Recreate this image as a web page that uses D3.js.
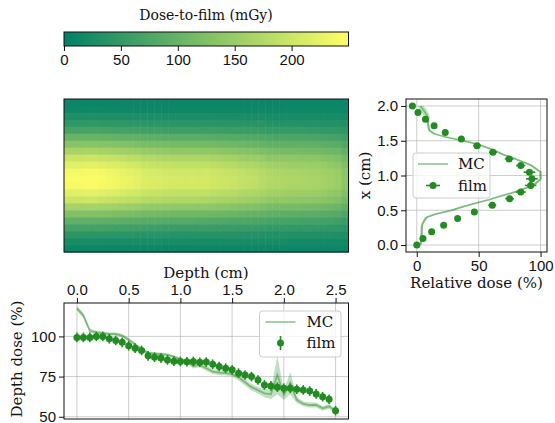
<!DOCTYPE html>
<html lang="en">
<head>
<meta charset="UTF-8">
<title>Dose-to-film</title>
<script src="https://cdnjs.cloudflare.com/ajax/libs/d3/7.8.5/d3.min.js"></script>
<style>
  body { margin: 0; background: #fff; }
  svg { font-family: "DejaVu Serif", serif; font-size: 15px; }
  .grid line { stroke: #b0b0b0; stroke-opacity: 0.7; stroke-width: 0.9px; }
  .frame { fill: none; stroke: #111; stroke-width: 1px; }
  .tick line { stroke: #111; }
  .tick text { fill: #111; font-size: 15px; }
</style>
</head>
<body>
<div id="wrapper"></div>
<script>
// colour bar
const cbarTicks = [0, 50, 100, 150, 200];
const cbarMax = 250;

// film dose map (mGy), rows top (x = 2.0 cm) to bottom (x = 0 cm), columns = depth
const doseMap = [
  [12,12,12,12,12,12,12,12,12,12,12,12,12,12,12,12,12,12,12,12,12,12,12,12,12,12,12,12,12,12,12,12,12,12,12,12,12,12,12,12,12],
  [14,14,14,15,15,14,14,14,14,14,14,14,14,14,14,14,14,14,14,14,14,14,14,14,14,14,14,14,14,14,14,14,14,14,14,14,14,14,14,14,13],
  [29,29,29,30,30,29,29,29,28,28,28,27,27,27,27,27,27,27,27,27,27,26,26,26,26,25,25,25,25,24,24,24,24,24,24,24,24,23,23,23,21],
  [47,47,47,47,47,46,46,46,45,44,44,43,42,42,42,42,42,41,42,41,41,41,40,40,40,39,39,38,38,36,36,36,36,36,35,35,35,34,34,33,31],
  [69,69,69,70,70,69,68,67,66,65,65,63,62,62,61,61,61,60,61,60,60,60,59,58,58,56,56,55,54,52,52,51,51,51,51,50,50,49,48,47,43],
  [102,102,102,102,102,101,100,99,97,96,94,91,91,90,89,88,88,88,88,88,88,87,85,84,83,82,81,80,78,75,74,74,73,73,73,72,72,70,68,67,61],
  [133,133,133,134,134,132,131,130,127,125,123,119,118,118,116,115,115,115,115,114,114,113,111,110,109,106,105,104,101,97,96,95,95,95,94,93,93,90,88,86,78],
  [165,165,165,166,166,164,162,160,157,155,153,147,146,145,144,142,142,142,142,141,141,139,137,136,134,131,129,128,124,120,119,117,116,116,115,115,114,111,108,106,95],
  [198,198,198,199,199,196,194,192,188,185,183,176,175,174,172,170,170,169,170,169,169,167,164,162,160,156,154,152,148,140,141,140,139,139,137,137,135,132,129,126,113],
  [221,221,221,222,222,219,217,214,210,207,204,197,195,194,191,190,189,189,189,188,188,186,183,180,178,174,172,170,165,159,157,156,154,154,153,152,151,147,143,140,125],
  [239,239,239,240,240,237,234,232,227,223,220,212,211,209,207,205,204,204,204,203,204,201,197,195,193,188,185,183,178,171,170,168,166,166,165,164,162,158,155,151,135],
  [244,244,244,245,245,242,239,236,231,228,225,217,215,214,211,209,209,208,209,208,208,205,201,199,197,192,189,187,182,175,173,171,170,170,168,167,166,162,158,154,137],
  [241,241,241,242,242,239,237,234,229,226,222,215,213,211,209,207,207,206,207,205,206,203,199,197,195,190,187,185,180,173,172,170,168,168,167,166,164,160,156,152,136],
  [221,221,221,222,222,219,217,214,210,207,204,197,195,194,191,190,189,189,189,188,188,186,183,180,178,174,172,170,165,159,157,156,154,154,153,152,151,147,143,140,125],
  [199,199,199,200,200,197,195,193,189,186,184,177,176,175,173,171,171,170,171,170,170,168,165,163,161,157,155,153,149,143,142,141,139,139,138,137,136,133,130,126,113],
  [164,164,164,165,165,163,161,159,156,154,152,146,145,144,143,141,141,141,141,140,141,139,136,135,133,130,128,127,124,119,118,117,116,116,115,114,113,110,108,105,94],
  [128,128,128,128,128,127,126,124,122,120,118,114,113,113,111,111,110,110,110,110,110,108,107,105,104,102,101,99,97,93,93,92,91,91,90,90,89,87,85,83,75],
  [94,94,94,95,95,93,93,92,90,89,88,85,84,84,83,82,82,82,82,81,81,80,79,78,77,76,75,74,72,70,69,69,68,68,67,67,67,65,64,62,56],
  [66,66,66,66,66,66,65,64,63,62,62,60,59,59,58,58,58,58,58,58,58,57,56,56,55,54,53,53,52,50,50,49,49,49,48,48,48,47,46,45,41],
  [42,42,42,42,42,42,41,41,40,40,39,38,38,38,38,37,37,37,37,37,37,37,36,36,36,35,35,35,34,33,33,33,32,32,32,32,32,31,31,30,28],
  [24,24,24,25,25,24,24,24,24,24,23,23,23,23,23,23,23,23,23,22,22,22,22,22,22,22,21,21,21,21,21,21,20,20,20,20,20,20,20,20,19],
  [12,12,12,12,12,12,12,12,12,12,12,12,12,12,12,12,12,12,12,12,12,12,12,12,12,12,12,12,12,12,12,12,12,12,12,12,12,12,12,12,12]
];

// depth dose (%)
const depthCm = [0,0.0625,0.125,0.1875,0.25,0.3125,0.375,0.4375,0.5,0.5625,0.625,0.6875,0.75,0.8125,0.875,0.9375,1,1.0625,1.125,1.1875,1.25,1.3125,1.375,1.4375,1.5,1.5625,1.625,1.6875,1.75,1.8125,1.875,1.9375,2,2.0625,2.125,2.1875,2.25,2.3125,2.375,2.4375,2.5];
const depthFilm = [99.4,99.4,99.4,100,100,98.5,97.5,96.3,94.2,92.7,91.3,87.9,87.1,86.5,85.4,84.6,84.4,84.2,84.4,83.9,84.0,82.7,81.3,80.2,79.2,77.1,76.0,75.0,72.9,69.8,69.2,68.4,67.7,67.7,67.1,66.7,66.0,64.2,62.5,60.9,53.75];
const depthFilmErr = 3;
const depthMC = [117.5,113,103.5,102.5,102,101.5,101.5,100.5,98,95,92,89.8,89.2,89,88.5,87.3,85.8,84.5,81.5,82.3,80.2,78.1,77.5,77.1,76.5,74.6,71.5,68.4,66.5,64.6,64.0,76,63.5,71,60.5,58,57.3,57.3,55.2,56.5,53.5];
const depthMCErr = [1.5,1.5,1.5,1,1,1,1,1,1,1,1,1,1,1,1,1,1,1,1.5,1.5,1.5,1.5,1.5,1.5,1.5,2,2,2,2,2.5,3,12,3,7,2,1.5,1.5,1.5,1.5,1.5,1.5];
const depthTicksX = [0, 0.5, 1.0, 1.5, 2.0, 2.5];
const depthTicksY = [50, 75, 100];

// lateral profile (%)
const latCm = [0,0.095,0.19,0.286,0.381,0.476,0.571,0.667,0.762,0.857,0.952,1.048,1.143,1.238,1.333,1.429,1.524,1.619,1.714,1.810,1.905,2.0];
const latFilm = [0,5,12,21.7,33,46.5,61,75,84,92,93,91,84,74.6,61.5,48.7,36,23,14,7,1,-3.5];
const latFilmErr = [0.5,0.8,1,1.5,2,2.5,3.2,3.5,4,4.7,4.7,4.7,3.7,3.5,3.2,3.2,2.5,2,1.5,1,0.8,0.5];
const latMCcm = [0,0.05,0.1,0.15,0.2,0.25,0.3,0.35,0.4,0.45,0.5,0.55,0.6,0.65,0.7,0.75,0.8,0.85,0.9,0.95,1,1.05,1.1,1.15,1.2,1.25,1.3,1.35,1.4,1.45,1.5,1.55,1.6,1.65,1.7,1.75,1.8,1.85,1.9,1.95,2];
const latMC = [3,3.5,3.5,4,4,4,4.5,6,8,16,28,37,47,58,67,77,85,93,97,100,100,100,96,92,85,78,70,64,57,49,37,24,14,10,9.5,9,9,8.5,7,5,3];
const latMCErr = [1,1,1,1,1,1,1,1,1.5,2,2,2,1.5,1.5,1.5,1.5,1.5,1.5,1.5,1,1,1,1,1.5,1.5,1.5,1.5,1.5,1.5,1.5,1.5,1.5,1.5,1,1,1,1.5,2,2.5,3,2.5];
const latTicksX = [0, 50, 100];
const latTicksY = [0, 0.5, 1.0, 1.5, 2.0];

const green = "#228b22";

const svg = d3.select("#wrapper").append("svg")
  .attr("width", 555).attr("height", 423);

// ---------- colour bar ----------
const summer = d3.interpolateRgb("#008066", "#ffff66");
const color = d3.scaleSequential(summer).domain([0, cbarMax]);
const cx = d3.scaleLinear().domain([0, cbarMax]).range([64, 348.5]);

const grad = svg.append("defs").append("linearGradient").attr("id", "cgrad");
d3.range(0, 1.0001, 0.1).forEach(t => {
  grad.append("stop").attr("offset", t).attr("stop-color", color(t * cbarMax));
});
svg.append("rect").attr("x", 64).attr("y", 32).attr("width", 284.5).attr("height", 14)
  .attr("fill", "url(#cgrad)");
svg.append("rect").attr("class", "frame").attr("x", 64).attr("y", 32).attr("width", 284.5).attr("height", 14);
svg.append("g").attr("transform", "translate(0,46)")
  .call(d3.axisBottom(cx).tickValues(cbarTicks).tickSize(5).tickPadding(3))
  .call(g => g.select(".domain").remove());
svg.append("text").attr("x", 206).attr("y", 20).attr("text-anchor", "middle")
  .attr("fill", "#111").style("font-size", "14px").text("Dose-to-film (mGy)");

// ---------- heat map ----------
const hx = d3.scaleBand().domain(d3.range(doseMap[0].length)).range([64, 348.5]);
const hy = d3.scaleBand().domain(d3.range(doseMap.length)).range([99, 252]);
const cells = [];
doseMap.forEach((row, r) => row.forEach((v, c) => cells.push({r, c, v})));
svg.append("g").selectAll("rect").data(cells).enter().append("rect")
  .attr("x", d => hx(d.c)).attr("y", d => hy(d.r))
  .attr("width", hx.bandwidth() + 0.5).attr("height", hy.bandwidth() + 0.5)
  .attr("fill", d => color(d.v));
svg.append("rect").attr("class", "frame").attr("x", 64).attr("y", 99).attr("width", 284.5).attr("height", 153);

// ---------- depth dose ----------
const dx = d3.scaleLinear().domain([-0.125, 2.625]).range([64, 348.5]);
const dy = d3.scaleLinear().domain([48.6, 120.8]).range([419, 303]);
const dg = svg.append("g").attr("class", "grid");
dg.selectAll(".gx").data(depthTicksX).enter().append("line")
  .attr("x1", d => dx(d)).attr("x2", d => dx(d)).attr("y1", 303).attr("y2", 419);
dg.selectAll(".gy").data(depthTicksY).enter().append("line")
  .attr("y1", d => dy(d)).attr("y2", d => dy(d)).attr("x1", 64).attr("x2", 348.5);

const mcDepth = depthCm.map((x, i) => ({x, y: depthMC[i], e: depthMCErr[i]}));
svg.append("path").datum(mcDepth)
  .attr("d", d3.area().x(d => dx(d.x)).y0(d => dy(d.y - d.e)).y1(d => dy(d.y + d.e)))
  .attr("fill", green).attr("fill-opacity", 0.28);
svg.append("path").datum(mcDepth)
  .attr("d", d3.line().x(d => dx(d.x)).y(d => dy(d.y)))
  .attr("fill", "none").attr("stroke", green).attr("stroke-opacity", 0.45).attr("stroke-width", 1.8);

const filmDepth = depthCm.map((x, i) => ({x, y: depthFilm[i]}));
svg.append("g").selectAll("line").data(filmDepth).enter().append("line")
  .attr("x1", d => dx(d.x)).attr("x2", d => dx(d.x))
  .attr("y1", d => dy(d.y - depthFilmErr)).attr("y2", d => dy(d.y + depthFilmErr))
  .attr("stroke", green).attr("stroke-width", 1.6);
svg.append("g").selectAll("circle").data(filmDepth).enter().append("circle")
  .attr("cx", d => dx(d.x)).attr("cy", d => dy(d.y)).attr("r", 3.5).attr("fill", green);

svg.append("rect").attr("class", "frame").attr("x", 64).attr("y", 303).attr("width", 284.5).attr("height", 116);
svg.append("g").attr("transform", "translate(0,303)")
  .call(d3.axisTop(dx).tickValues(depthTicksX).tickFormat(d3.format(".1f")).tickSize(5).tickPadding(3))
  .call(g => g.select(".domain").remove());
svg.append("g").attr("transform", "translate(64,0)")
  .call(d3.axisLeft(dy).tickValues(depthTicksY).tickSize(5).tickPadding(3))
  .call(g => g.select(".domain").remove());
svg.append("text").attr("x", 206).attr("y", 278).attr("text-anchor", "middle")
  .attr("fill", "#111").text("Depth (cm)");
svg.append("text").attr("transform", "translate(22,359) rotate(-90)").attr("text-anchor", "middle")
  .attr("fill", "#111").text("Depth dose (%)");

// legend (depth)
const lg1 = svg.append("g").attr("transform", "translate(259.5,311)");
lg1.append("rect").attr("width", 81.5).attr("height", 46).attr("rx", 3)
  .attr("fill", "#fff").attr("fill-opacity", 0.8).attr("stroke", "#ccc");
lg1.append("line").attr("x1", 6).attr("x2", 36).attr("y1", 11).attr("y2", 11)
  .attr("stroke", green).attr("stroke-opacity", 0.45).attr("stroke-width", 1.8);
lg1.append("text").attr("x", 47).attr("y", 11).attr("dy", "0.35em").attr("fill", "#111").text("MC");
lg1.append("line").attr("x1", 21).attr("x2", 21).attr("y1", 25).attr("y2", 39)
  .attr("stroke", green).attr("stroke-width", 1.6);
lg1.append("circle").attr("cx", 21).attr("cy", 32).attr("r", 3.5).attr("fill", green);
lg1.append("text").attr("x", 47).attr("y", 32).attr("dy", "0.35em").attr("fill", "#111").text("film");

// ---------- lateral profile ----------
const px = d3.scaleLinear().domain([-8.7, 105.2]).range([406, 547]);
const py = d3.scaleLinear().domain([-0.1, 2.1]).range([252, 99]);
const pg = svg.append("g").attr("class", "grid");
pg.selectAll(".gx").data(latTicksX).enter().append("line")
  .attr("x1", d => px(d)).attr("x2", d => px(d)).attr("y1", 99).attr("y2", 252);
pg.selectAll(".gy").data(latTicksY).enter().append("line")
  .attr("y1", d => py(d)).attr("y2", d => py(d)).attr("x1", 406).attr("x2", 547);

const mcLat = latMCcm.map((y, i) => ({y, x: latMC[i], e: latMCErr[i]}));
svg.append("path").datum(mcLat)
  .attr("d", d3.area().y(d => py(d.y)).x0(d => px(d.x - d.e)).x1(d => px(d.x + d.e)))
  .attr("fill", green).attr("fill-opacity", 0.28);
svg.append("path").datum(mcLat)
  .attr("d", d3.line().x(d => px(d.x)).y(d => py(d.y)))
  .attr("fill", "none").attr("stroke", green).attr("stroke-opacity", 0.45).attr("stroke-width", 1.8);

const filmLat = latCm.map((y, i) => ({y, x: latFilm[i], e: latFilmErr[i]}));
svg.append("g").selectAll("line").data(filmLat).enter().append("line")
  .attr("y1", d => py(d.y)).attr("y2", d => py(d.y))
  .attr("x1", d => px(d.x - d.e)).attr("x2", d => px(d.x + d.e))
  .attr("stroke", green).attr("stroke-width", 1.6);
svg.append("g").selectAll("circle").data(filmLat).enter().append("circle")
  .attr("cx", d => px(d.x)).attr("cy", d => py(d.y)).attr("r", 3.5).attr("fill", green);

svg.append("rect").attr("class", "frame").attr("x", 406).attr("y", 99).attr("width", 141).attr("height", 153);
svg.append("g").attr("transform", "translate(0,252)")
  .call(d3.axisBottom(px).tickValues(latTicksX).tickSize(5).tickPadding(3))
  .call(g => g.select(".domain").remove());
svg.append("g").attr("transform", "translate(406,0)")
  .call(d3.axisLeft(py).tickValues(latTicksY).tickFormat(d3.format(".1f")).tickSize(5).tickPadding(3))
  .call(g => g.select(".domain").remove());
svg.append("text").attr("x", 476.5).attr("y", 288).attr("text-anchor", "middle")
  .attr("fill", "#111").text("Relative dose (%)");
svg.append("text").attr("transform", "translate(370,175.5) rotate(-90)").attr("text-anchor", "middle")
  .attr("fill", "#111").text("x (cm)");

// legend (profile)
const lg2 = svg.append("g").attr("transform", "translate(413,153)");
lg2.append("rect").attr("width", 77).attr("height", 45).attr("rx", 3)
  .attr("fill", "#fff").attr("fill-opacity", 0.8).attr("stroke", "#ccc");
lg2.append("line").attr("x1", 5).attr("x2", 35).attr("y1", 11).attr("y2", 11)
  .attr("stroke", green).attr("stroke-opacity", 0.45).attr("stroke-width", 1.8);
lg2.append("text").attr("x", 45).attr("y", 11).attr("dy", "0.35em").attr("fill", "#111").text("MC");
lg2.append("line").attr("x1", 13).attr("x2", 27).attr("y1", 32.5).attr("y2", 32.5)
  .attr("stroke", green).attr("stroke-width", 1.6);
lg2.append("circle").attr("cx", 20).attr("cy", 32.5).attr("r", 3.5).attr("fill", green);
lg2.append("text").attr("x", 45).attr("y", 32.5).attr("dy", "0.35em").attr("fill", "#111").text("film");
</script>
</body>
</html>
